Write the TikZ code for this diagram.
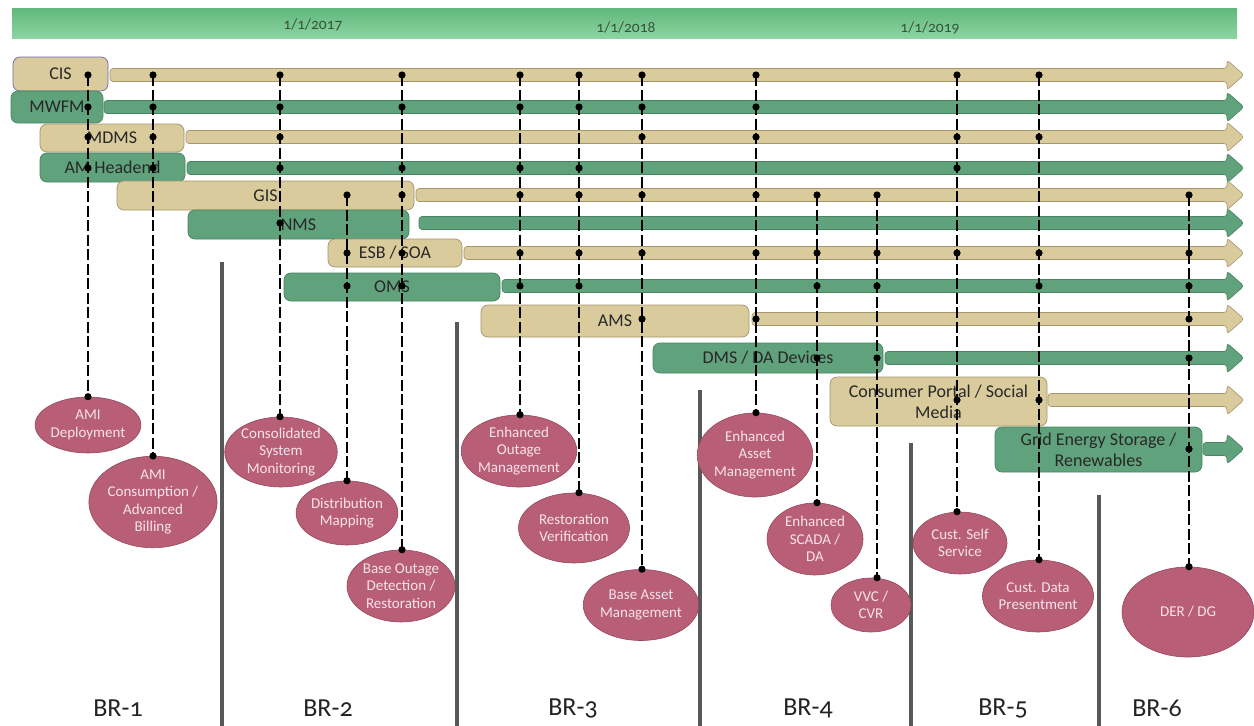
\documentclass[tikz,border=0pt]{standalone}
\usepackage{fontspec}
\setmainfont{Carlito}[Numbers=OldStyle]
\usetikzlibrary{shapes.geometric}
\definecolor{tanF}{RGB}{217,203,156}
\definecolor{tanD}{RGB}{165,150,110}
\definecolor{grnF}{RGB}{96,162,124}
\definecolor{grnD}{RGB}{72,132,98}
\definecolor{ellF}{RGB}{184,94,118}
\definecolor{ellD}{RGB}{150,72,94}
\definecolor{ellT}{RGB}{246,228,233}
\definecolor{boxT}{RGB}{40,40,40}
\definecolor{sepC}{RGB}{88,88,88}
\definecolor{barTop}{RGB}{96,184,124}
\definecolor{barBot}{RGB}{140,212,160}
\definecolor{dateT}{RGB}{55,85,60}
\definecolor{brT}{RGB}{35,35,35}
\definecolor{cisD}{RGB}{112,106,172}
\newcommand\rowbox[7]{%
  \node[#1, minimum width={#5-#3}, minimum height={#6-#4}] (#2) at ({(#3+#5)/2},{(#4+#6)/2}) {#7};}
\newcommand\rowarrow[3]{%
  \draw[#1, rounded corners=3pt] (#2,#3-6.5) -- (1227,#3-6.5) -- (1227,#3-15) -- (1244,#3) -- (1227,#3+15) -- (1227,#3+6.5) -- (#2,#3+6.5) -- cycle;}
\newcommand\conn[4]{%
  \coordinate (t#1) at (#2,#3);
  \coordinate (b#1) at (t#1 |- e#1.north);
  \draw[connline] (t#1) -- (b#1);
  \fill (t#1) circle (3.6pt);
  \fill (b#1) circle (3.6pt);
  \foreach \yy in {#4} {\fill (#2,\yy) circle (3.6pt);}}
\begin{document}
\begin{tikzpicture}[x=1pt,y=-1pt,
  tanbox/.style={rectangle, rounded corners=7pt, fill=tanF, draw=tanD, line width=0.7pt, text=boxT, font=\fontsize{18}{21}\selectfont, inner sep=0pt, align=center},
  grnbox/.style={tanbox, fill=grnF, draw=grnD},
  tanbar/.style={fill=tanF, draw=tanD, line width=0.6pt},
  grnbar/.style={fill=grnF, draw=grnD, line width=0.6pt},
  ell/.style={ellipse, fill=ellF, draw=ellD, line width=0.6pt, text=ellT, font=\fontsize{15}{17.5}\selectfont, inner sep=0pt, align=center},
  connline/.style={black, line width=1.3pt, dash pattern=on 11pt off 3.5pt},
  sepline/.style={sepC, line width=3.5pt},
  datelab/.style={text=dateT, font=\fontsize{15.5}{18}\selectfont},
  brlab/.style={text=brT, font=\fontsize{26}{30}\selectfont}
]
\useasboundingbox (0,0) rectangle (1254,726);
\fill[white] (0,0) rectangle (1254,726);
% top time bar
\shade[top color=barTop, bottom color=barBot] (12,8) rectangle (1237,38);
\node[datelab] (d17) at (313,25) {1/1/2017};
\node[datelab] (d18) at (626,27) {1/1/2018};
\node[datelab] (d19) at (930,28) {1/1/2019};
% separators
\draw[sepline] (222,262) -- (222,726);
\draw[sepline] (457,322) -- (457,726);
\draw[sepline] (700,390) -- (700,726);
\draw[sepline] (911,443) -- (911,726);
\draw[sepline] (1099,495) -- (1099,726);
% rows
\rowbox{tanbox,draw=cisD}{bCIS}{13}{57}{108}{91}{CIS}
\rowarrow{tanbar}{110}{75}
\rowbox{grnbox}{bMWFM}{11}{91}{103}{123}{MWFM}
\rowarrow{grnbar}{104}{107}
\rowbox{tanbox}{bMDMS}{40}{124}{184}{152}{MDMS}
\rowarrow{tanbar}{186}{137}
\rowbox{grnbox}{bAMH}{40}{153}{185}{182}{AM Headend}
\rowarrow{grnbar}{187}{168}
\rowbox{tanbox}{bGIS}{117}{181}{414}{210}{GIS}
\rowarrow{tanbar}{416}{195}
\rowbox{grnbox}{bNMS}{188}{210}{409}{239}{NMS}
\rowarrow{grnbar}{419}{223}
\rowbox{tanbox}{bESB}{328}{239}{462}{267}{ESB / SOA}
\rowarrow{tanbar}{464}{253}
\rowbox{grnbox}{bOMS}{284}{273}{500}{301}{OMS}
\rowarrow{grnbar}{502}{286}
\rowbox{tanbox}{bAMS}{481}{305}{749}{337}{AMS}
\rowarrow{tanbar}{752}{319}
\rowbox{grnbox}{bDMS}{653}{343}{883}{373}{DMS / DA Devices}
\rowarrow{grnbar}{885}{358}
\rowbox{tanbox}{bCP}{830}{377}{1047}{426}{Consumer Portal / Social\\Media}
\rowarrow{tanbar}{1048}{400}
\rowbox{grnbox}{bGrid}{995}{427}{1202}{472}{Grid Energy Storage /\\Renewables}
\rowarrow{grnbar}{1203}{449}
% capability ellipses
\node[ell, minimum width=100pt, minimum height=56pt] (eA) at (88,425) {AMI\\Deployment};
\node[ell, minimum width=122pt, minimum height=90pt] (eB) at (153,502) {AMI\\Consumption /\\Advanced\\Billing};
\node[ell, minimum width=110pt, minimum height=70pt] (eC) at (281,452) {Consolidated\\System\\Monitoring};
\node[ell, minimum width=100pt, minimum height=64pt] (eD) at (347,513) {Distribution\\Mapping};
\node[ell, minimum width=108pt, minimum height=72pt] (eE) at (401,586) {Base Outage\\Detection /\\Restoration};
\node[ell, minimum width=110pt, minimum height=72pt] (eF) at (519,451) {Enhanced\\Outage\\Management};
\node[ell, minimum width=111pt, minimum height=70pt] (eG) at (574,528) {Restoration\\Verification};
\node[ell, minimum width=111pt, minimum height=71pt] (eH) at (641,605) {Base Asset\\Management};
\node[ell, minimum width=104pt, minimum height=84pt] (eI) at (755,455) {Enhanced\\Asset\\Management};
\node[ell, minimum width=96pt, minimum height=72pt] (eJ) at (815,539) {Enhanced\\SCADA /\\DA};
\node[ell, minimum width=80pt, minimum height=54pt] (eM) at (871,605) {VVC /\\CVR};
\node[ell, minimum width=94pt, minimum height=62pt] (eK) at (960,543) {Cust. Self\\Service};
\node[ell, minimum width=110pt, minimum height=72pt] (eL) at (1038,596) {Cust. Data\\Presentment};
\node[ell, minimum width=132pt, minimum height=90pt] (eN) at (1188,612) {DER / DG};
% connectors
\conn{A}{88}{75}{107,137,168}
\conn{B}{153}{75}{107,137,168}
\conn{C}{280}{75}{107,137,168,223}
\conn{D}{347}{195}{253,286}
\conn{E}{402}{75}{107,168,195,253,286}
\conn{F}{520}{75}{107,168,195,253,286}
\conn{G}{579}{75}{107,168,195,253,286}
\conn{H}{642}{75}{107,137,195,253,319}
\conn{I}{756}{75}{107,137,195,253,319}
\conn{J}{817}{195}{253,286,358}
\conn{M}{877}{195}{253,286,358}
\conn{K}{957}{75}{137,168,253,400}
\conn{L}{1039}{75}{137,253,286,400}
\conn{N}{1189}{195}{253,286,319,358,449}
% release labels
\node[brlab] (br1) at (118,708) {BR-1};
\node[brlab] (br2) at (328,708) {BR-2};
\node[brlab] (br3) at (573,708) {BR-3};
\node[brlab] (br4) at (808,708) {BR-4};
\node[brlab] (br5) at (1003,708) {BR-5};
\node[brlab] (br6) at (1157,708) {BR-6};
\end{tikzpicture}
\end{document}
